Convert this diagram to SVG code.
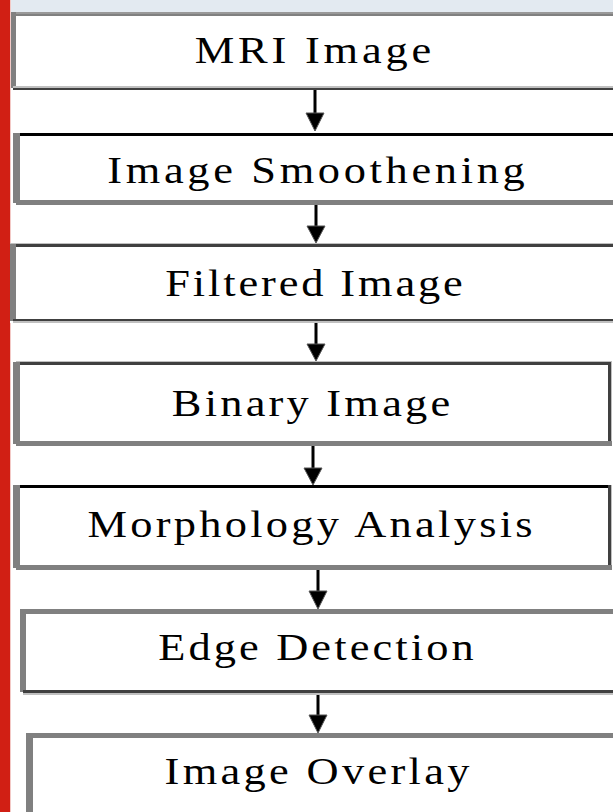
<svg xmlns="http://www.w3.org/2000/svg" width="613" height="812" viewBox="0 0 613 812">
<defs>
<style>
.lbl{font-family:"Liberation Serif","Times New Roman",serif;font-size:37px;fill:#000;}
.g{fill:#808080}.l{fill:#c0c0c0}.d{fill:#404040}.k{fill:#000}
.shaft{stroke:#000;stroke-width:3;fill:none}
.head{fill:#000;stroke:#555;stroke-width:1}
</style>
</defs>
<rect x="0" y="0" width="613" height="812" fill="#fff"/>
<rect x="0" y="0" width="613" height="12" fill="#e3eaf1"/>
<rect x="0" y="0" width="10" height="812" fill="#d11f14"/>
<rect x="10" y="0" width="1" height="812" fill="#f3c9c6"/>

<g id="connectors">
<line class="shaft" x1="315" y1="90" x2="315" y2="118"/><polygon class="head" points="306,113 324,113 315,131"/>
<line class="shaft" x1="316" y1="205" x2="316" y2="230"/><polygon class="head" points="307,226 325,226 316,243"/>
<line class="shaft" x1="316" y1="323" x2="316" y2="348"/><polygon class="head" points="307,344 325,344 316,361"/>
<line class="shaft" x1="313" y1="446" x2="313" y2="472"/><polygon class="head" points="304,468 322,468 313,485"/>
<line class="shaft" x1="318" y1="570" x2="318" y2="596"/><polygon class="head" points="309,591 327,591 318,609"/>
<line class="shaft" x1="318" y1="695" x2="318" y2="720"/><polygon class="head" points="309,715 327,715 318,733"/>
</g>

<g id="n1">
<rect x="11" y="12" width="610" height="78" fill="#fff"/>
<rect x="11" y="12" width="602" height="2" fill="#999"/><rect class="g" x="11" y="14" width="602" height="2"/>
<rect class="g" x="11" y="12" width="5" height="76"/>
<rect class="l" x="13" y="86" width="600" height="2"/><rect class="d" x="13" y="88" width="600" height="2"/>
<text class="lbl" transform="translate(313,63) scale(1.2,1)" x="0" y="0" text-anchor="middle" textLength="197" lengthAdjust="spacing">MRI Image</text>
</g>

<g id="n2">
<rect x="13" y="133" width="610" height="72" fill="#fff"/>
<rect class="k" x="16" y="133" width="597" height="3"/>
<rect class="g" x="13" y="133" width="7" height="70"/>
<rect class="g" x="16" y="200" width="597" height="5"/>
<text class="lbl" transform="translate(316,183) scale(1.2,1)" x="0" y="0" text-anchor="middle" textLength="348" lengthAdjust="spacing">Image Smoothening</text>
</g>

<g id="n3">
<rect x="10" y="243" width="610" height="80" fill="#fff"/>
<rect class="l" x="10" y="243" width="603" height="1"/><rect class="d" x="13" y="244" width="600" height="3"/>
<rect class="g" x="10" y="244" width="6" height="77"/>
<rect class="d" x="13" y="319" width="600" height="2"/><rect class="l" x="13" y="321" width="600" height="2"/>
<text class="lbl" transform="translate(314,296) scale(1.2,1)" x="0" y="0" text-anchor="middle" textLength="248" lengthAdjust="spacing">Filtered Image</text>
</g>

<g id="n4">
<rect x="13" y="361" width="599" height="85" fill="#fff"/>
<rect class="l" x="16" y="361" width="596" height="1"/><rect class="d" x="16" y="362" width="595" height="3"/>
<rect class="g" x="13" y="362" width="7" height="82"/>
<rect class="d" x="608" y="362" width="3" height="82"/><rect class="l" x="611" y="362" width="1" height="84"/>
<rect class="g" x="16" y="441" width="596" height="5"/>
<text class="lbl" transform="translate(311,416) scale(1.2,1)" x="0" y="0" text-anchor="middle" textLength="232" lengthAdjust="spacing">Binary Image</text>
</g>

<g id="n5">
<rect x="13" y="485" width="599" height="85" fill="#fff"/>
<rect class="k" x="16" y="485" width="595" height="3"/>
<rect class="g" x="13" y="485" width="7" height="83"/>
<rect class="d" x="608" y="485" width="3" height="82"/><rect class="l" x="611" y="485" width="1" height="84"/>
<rect class="g" x="16" y="565" width="596" height="5"/>
<text class="lbl" transform="translate(310,537) scale(1.2,1)" x="0" y="0" text-anchor="middle" textLength="371" lengthAdjust="spacing">Morphology Analysis</text>
</g>

<g id="n6">
<rect x="20" y="609" width="600" height="86" fill="#fff"/>
<rect class="g" x="20" y="609" width="593" height="5"/>
<rect class="g" x="20" y="609" width="6" height="83"/>
<rect class="d" x="23" y="690" width="590" height="3"/><rect class="l" x="23" y="693" width="590" height="2"/>
<text class="lbl" transform="translate(316,660) scale(1.2,1)" x="0" y="0" text-anchor="middle" textLength="263" lengthAdjust="spacing">Edge Detection</text>
</g>

<g id="n7">
<rect x="26" y="733" width="600" height="90" fill="#fff"/>
<rect class="g" x="26" y="733" width="587" height="5"/>
<rect class="g" x="26" y="733" width="7" height="79"/>
<text class="lbl" transform="translate(317,784) scale(1.2,1)" x="0" y="0" text-anchor="middle" textLength="254" lengthAdjust="spacing">Image Overlay</text>
</g>
</svg>
